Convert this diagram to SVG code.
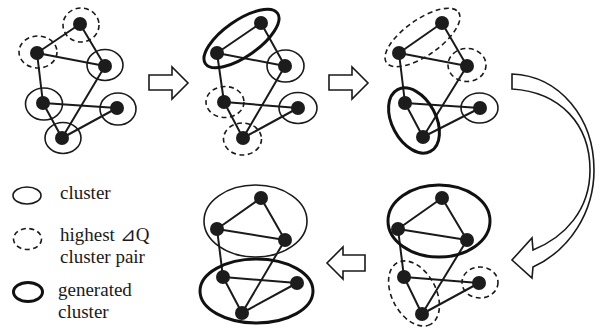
<svg xmlns="http://www.w3.org/2000/svg" width="601" height="328" viewBox="0 0 601 328">
<style>
.e{stroke:#1a1a1a;stroke-width:2;fill:none}
.n{fill:#1c1c1c}
.c{fill:none;stroke:#1a1a1a;stroke-width:1.6}
.d{fill:none;stroke:#1a1a1a;stroke-width:1.6;stroke-dasharray:5 3.5}
.g{fill:none;stroke:#111;stroke-width:3}
.a{fill:#fff;stroke:#1a1a1a;stroke-width:1.6;stroke-linejoin:miter}
</style>
<rect width="601" height="328" fill="#fff"/>
<g id="connectors">
  <path class="e" d="M80,24 L37,53 M80,24 L105,66 M37,53 L105,66 M37,53 L43,103 M105,66 L62,138 M43,103 L117,108 M43,103 L62,138 M117,108 L62,138"/>
  <path class="e" d="M261,23 L217,53 M261,23 L285,66 M217,53 L285,66 M217,53 L224,102 M285,66 L243,138 M224,102 L298,108 M224,102 L243,138 M298,108 L243,138"/>
  <path class="e" d="M442,23 L399,53 M442,23 L467,66 M399,53 L467,66 M399,53 L405,103 M467,66 L423,137 M405,103 L480,108 M405,103 L423,137 M480,108 L423,137"/>
  <path class="e" d="M442,198 L398,229 M442,198 L467,240 M398,229 L467,240 M398,229 L404,277 M467,240 L422,314 M404,277 L479,283 M404,277 L422,314 M479,283 L422,314"/>
  <path class="e" d="M261,198 L217,229 M261,198 L285,240 M217,229 L285,240 M217,229 L223,277 M285,240 L242,313 M223,277 L297,283 M223,277 L242,313 M297,283 L242,313"/>
</g>
<g id="clusters1">
  <ellipse class="d" cx="81" cy="25" rx="18" ry="17"/>
  <ellipse class="d" cx="38" cy="52" rx="19" ry="16"/>
  <ellipse class="c" cx="105" cy="65" rx="18" ry="15.5"/>
  <ellipse class="c" cx="44" cy="104" rx="18.5" ry="16"/>
  <ellipse class="c" cx="118" cy="109" rx="18" ry="16"/>
  <ellipse class="c" cx="63" cy="138" rx="18" ry="15.5"/>
</g>
<g id="clusters2">
  <ellipse class="g" cx="0" cy="0" rx="44" ry="18" transform="translate(241.5,38.5) rotate(-35)"/>
  <ellipse class="c" cx="285.5" cy="66" rx="18.5" ry="16"/>
  <ellipse class="c" cx="298" cy="108" rx="19" ry="15.5"/>
  <ellipse class="d" cx="225" cy="102" rx="19" ry="15.5"/>
  <ellipse class="d" cx="242.5" cy="139" rx="19" ry="16"/>
</g>
<g id="clusters3">
  <ellipse class="d" cx="0" cy="0" rx="44" ry="18" transform="translate(422.5,37.5) rotate(-35)"/>
  <ellipse class="d" cx="467" cy="65" rx="19" ry="16.5"/>
  <ellipse class="g" cx="0" cy="0" rx="35" ry="22" transform="translate(414,120.5) rotate(62)"/>
  <ellipse class="c" cx="479.5" cy="108" rx="18.5" ry="15"/>
</g>
<g id="clusters4">
  <ellipse class="g" cx="439" cy="221" rx="51" ry="36"/>
  <ellipse class="d" cx="0" cy="0" rx="35" ry="22" transform="translate(414,293.5) rotate(62)"/>
  <ellipse class="d" cx="480" cy="282.5" rx="18" ry="15.5"/>
</g>
<g id="clusters5">
  <ellipse class="c" cx="255.5" cy="221" rx="51.5" ry="36"/>
  <ellipse class="g" cx="256.5" cy="291" rx="56.5" ry="32"/>
</g>
<g id="nodes1">
  <g id="n1a"><circle class="n" cx="80" cy="24" r="7"/></g>
  <g id="n1b"><circle class="n" cx="37" cy="53" r="7"/></g>
  <g id="n1c"><circle class="n" cx="105" cy="66" r="7"/></g>
  <g id="n1d"><circle class="n" cx="43" cy="103" r="7"/></g>
  <g id="n1e"><circle class="n" cx="117" cy="108" r="7"/></g>
  <g id="n1f"><circle class="n" cx="62" cy="138" r="7"/></g>
</g>
<g id="nodes2">
  <g id="n2a"><circle class="n" cx="261" cy="23" r="7"/></g>
  <g id="n2b"><circle class="n" cx="217" cy="53" r="7"/></g>
  <g id="n2c"><circle class="n" cx="285" cy="66" r="7"/></g>
  <g id="n2d"><circle class="n" cx="224" cy="102" r="7"/></g>
  <g id="n2e"><circle class="n" cx="298" cy="108" r="7"/></g>
  <g id="n2f"><circle class="n" cx="243" cy="138" r="7"/></g>
</g>
<g id="nodes3">
  <g id="n3a"><circle class="n" cx="442" cy="23" r="7"/></g>
  <g id="n3b"><circle class="n" cx="399" cy="53" r="7"/></g>
  <g id="n3c"><circle class="n" cx="467" cy="66" r="7"/></g>
  <g id="n3d"><circle class="n" cx="405" cy="103" r="7"/></g>
  <g id="n3e"><circle class="n" cx="480" cy="108" r="7"/></g>
  <g id="n3f"><circle class="n" cx="423" cy="137" r="7"/></g>
</g>
<g id="nodes4">
  <g id="n4a"><circle class="n" cx="442" cy="198" r="7"/></g>
  <g id="n4b"><circle class="n" cx="398" cy="229" r="7"/></g>
  <g id="n4c"><circle class="n" cx="467" cy="240" r="7"/></g>
  <g id="n4d"><circle class="n" cx="404" cy="277" r="7"/></g>
  <g id="n4e"><circle class="n" cx="479" cy="283" r="7"/></g>
  <g id="n4f"><circle class="n" cx="422" cy="314" r="7"/></g>
</g>
<g id="nodes5">
  <g id="n5a"><circle class="n" cx="261" cy="198" r="7"/></g>
  <g id="n5b"><circle class="n" cx="217" cy="229" r="7"/></g>
  <g id="n5c"><circle class="n" cx="285" cy="240" r="7"/></g>
  <g id="n5d"><circle class="n" cx="223" cy="277" r="7"/></g>
  <g id="n5e"><circle class="n" cx="297" cy="283" r="7"/></g>
  <g id="n5f"><circle class="n" cx="242" cy="313" r="7"/></g>
</g>
<g id="arrows">
  <path class="a" d="M149,75 L172,75 L172,67 L188,83 L172,99 L172,90 L149,90 Z"/>
  <path class="a" d="M329,75 L352,75 L352,67 L368,83 L352,99 L352,90 L329,90 Z"/>
  <path class="a" d="M365,255 L343,255 L343,247 L327,263 L343,279 L343,271 L365,271 Z"/>
  <path class="a" d="M512,74 C560,76 594,118 594,170 C594,212 570,250 533,267 L532,278 L512,260 L532,238 L533,250 C565,237 590,210 590,170 C590,124 560,92 512,89 Z"/>
</g>
<g id="legend" font-family="'Liberation Serif', 'DejaVu Serif', serif" font-size="19" fill="#1a1a1a">
  <ellipse class="c" cx="27" cy="195.5" rx="14" ry="8.5" stroke-width="2"/>
  <ellipse class="d" cx="27.5" cy="239" rx="14" ry="10.5" stroke-width="2" stroke-dasharray="4 3.5"/>
  <ellipse class="g" cx="28" cy="292" rx="14.5" ry="9.5"/>
  <text x="60" y="199">cluster</text>
  <text x="60" y="241">highest ⊿Q</text>
  <text x="60" y="263">cluster pair</text>
  <text x="58" y="296">generated</text>
  <text x="58" y="318">cluster</text>
</g>
</svg>
